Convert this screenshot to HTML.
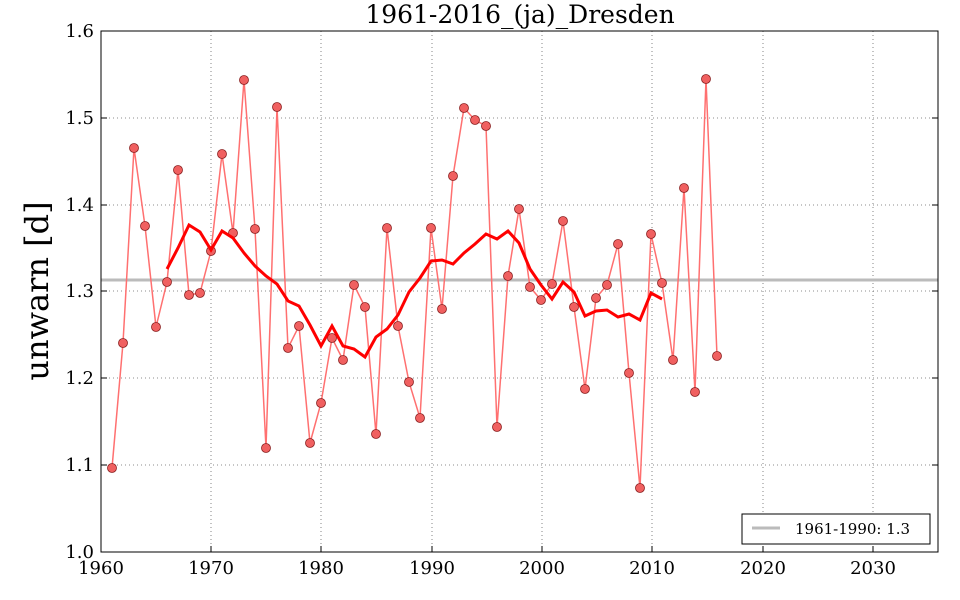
<!DOCTYPE html>
<html><head><meta charset="utf-8"><style>body{margin:0;background:#fff}svg{display:block}</style></head><body>
<svg width="960" height="600" xmlns="http://www.w3.org/2000/svg" font-family="'DejaVu Serif','Liberation Serif',serif">
<rect width="960" height="600" fill="#fff"/>
<g stroke="#000" stroke-width="0.8" stroke-dasharray="1,3" opacity="0.6">
<line x1="211" y1="31" x2="211" y2="552"/><line x1="321" y1="31" x2="321" y2="552"/><line x1="432" y1="31" x2="432" y2="552"/><line x1="542" y1="31" x2="542" y2="552"/><line x1="652" y1="31" x2="652" y2="552"/><line x1="763" y1="31" x2="763" y2="552"/><line x1="873" y1="31" x2="873" y2="552"/>
<line x1="101" y1="118" x2="938" y2="118"/><line x1="101" y1="205" x2="938" y2="205"/><line x1="101" y1="291" x2="938" y2="291"/><line x1="101" y1="378" x2="938" y2="378"/><line x1="101" y1="465" x2="938" y2="465"/>
</g>
<line x1="101" y1="280" x2="938" y2="280" stroke="#bbb" stroke-width="3"/>
<polyline fill="none" stroke="#ff7070" stroke-width="1.5" points="112,468 123,343 134,148 145,226 156,327 167,282 178,170 189,295 200,293 211,251 222,154 233,233 244,80 255,229 266,448 277,107 288,348 299,326 310,443 321,403 332,338 343,360 354,285 365,307 376,434 387,228 398,326 409,382 420,418 431,228 442,309 453,176 464,108 475,120 486,126 497,427 508,276 519,209 530,287 541,300 552,284 563,221 574,307 585,389 596,298 607,285 618,244 629,373 640,488 651,234 662,283 673,360 684,188 695,392 706,79 717,356"/>
<g fill="#f06060" stroke="#8a2020" stroke-width="0.8">
<circle cx="112" cy="468" r="4.5"/><circle cx="123" cy="343" r="4.5"/><circle cx="134" cy="148" r="4.5"/><circle cx="145" cy="226" r="4.5"/><circle cx="156" cy="327" r="4.5"/><circle cx="167" cy="282" r="4.5"/><circle cx="178" cy="170" r="4.5"/><circle cx="189" cy="295" r="4.5"/><circle cx="200" cy="293" r="4.5"/><circle cx="211" cy="251" r="4.5"/><circle cx="222" cy="154" r="4.5"/><circle cx="233" cy="233" r="4.5"/><circle cx="244" cy="80" r="4.5"/><circle cx="255" cy="229" r="4.5"/><circle cx="266" cy="448" r="4.5"/><circle cx="277" cy="107" r="4.5"/><circle cx="288" cy="348" r="4.5"/><circle cx="299" cy="326" r="4.5"/><circle cx="310" cy="443" r="4.5"/><circle cx="321" cy="403" r="4.5"/><circle cx="332" cy="338" r="4.5"/><circle cx="343" cy="360" r="4.5"/><circle cx="354" cy="285" r="4.5"/><circle cx="365" cy="307" r="4.5"/><circle cx="376" cy="434" r="4.5"/><circle cx="387" cy="228" r="4.5"/><circle cx="398" cy="326" r="4.5"/><circle cx="409" cy="382" r="4.5"/><circle cx="420" cy="418" r="4.5"/><circle cx="431" cy="228" r="4.5"/><circle cx="442" cy="309" r="4.5"/><circle cx="453" cy="176" r="4.5"/><circle cx="464" cy="108" r="4.5"/><circle cx="475" cy="120" r="4.5"/><circle cx="486" cy="126" r="4.5"/><circle cx="497" cy="427" r="4.5"/><circle cx="508" cy="276" r="4.5"/><circle cx="519" cy="209" r="4.5"/><circle cx="530" cy="287" r="4.5"/><circle cx="541" cy="300" r="4.5"/><circle cx="552" cy="284" r="4.5"/><circle cx="563" cy="221" r="4.5"/><circle cx="574" cy="307" r="4.5"/><circle cx="585" cy="389" r="4.5"/><circle cx="596" cy="298" r="4.5"/><circle cx="607" cy="285" r="4.5"/><circle cx="618" cy="244" r="4.5"/><circle cx="629" cy="373" r="4.5"/><circle cx="640" cy="488" r="4.5"/><circle cx="651" cy="234" r="4.5"/><circle cx="662" cy="283" r="4.5"/><circle cx="673" cy="360" r="4.5"/><circle cx="684" cy="188" r="4.5"/><circle cx="695" cy="392" r="4.5"/><circle cx="706" cy="79" r="4.5"/><circle cx="717" cy="356" r="4.5"/>
</g>
<polyline fill="none" stroke="#ff0000" stroke-width="3" points="167,269 178,248 189,225 200,232 211,250 222,231 233,238 244,253 255,266 266,276 277,284 288,301 299,306 310,325 321,346 332,326 343,346 354,349 365,357 376,337 387,329 398,315 409,292 420,278 431,261 442,260 453,264 464,253 475,244 486,234 497,239 508,231 519,243 530,269 541,285 552,299 563,282 574,292 585,316 596,311 607,310 618,317 629,314 640,320 651,293 662,299"/>
<rect x="101" y="31" width="837" height="521" fill="none" stroke="#000" stroke-width="1"/>
<g stroke="#000" stroke-width="1">
<line x1="211" y1="552" x2="211" y2="546"/><line x1="321" y1="552" x2="321" y2="546"/><line x1="432" y1="552" x2="432" y2="546"/><line x1="542" y1="552" x2="542" y2="546"/><line x1="652" y1="552" x2="652" y2="546"/><line x1="763" y1="552" x2="763" y2="546"/><line x1="873" y1="552" x2="873" y2="546"/>
<line x1="101" y1="118" x2="107" y2="118"/><line x1="101" y1="205" x2="107" y2="205"/><line x1="101" y1="291" x2="107" y2="291"/><line x1="101" y1="378" x2="107" y2="378"/><line x1="101" y1="465" x2="107" y2="465"/>
<line x1="932" y1="118" x2="938" y2="118"/><line x1="932" y1="205" x2="938" y2="205"/><line x1="932" y1="291" x2="938" y2="291"/><line x1="932" y1="378" x2="938" y2="378"/><line x1="932" y1="465" x2="938" y2="465"/>
</g>
<g font-size="18" text-anchor="middle">
<text x="101" y="574">1960</text><text x="211" y="574">1970</text><text x="321" y="574">1980</text><text x="432" y="574">1990</text><text x="542" y="574">2000</text><text x="652" y="574">2010</text><text x="763" y="574">2020</text><text x="873" y="574">2030</text>
</g>
<g font-size="18" text-anchor="end">
<text x="94" y="37">1.6</text><text x="94" y="124">1.5</text><text x="94" y="211">1.4</text><text x="94" y="297">1.3</text><text x="94" y="384">1.2</text><text x="94" y="471">1.1</text><text x="94" y="558">1.0</text>
</g>
<text x="520" y="23" font-size="25" text-anchor="middle">1961-2016_(ja)_Dresden</text>
<text transform="translate(48,291) rotate(-90)" font-size="32" text-anchor="middle">unwarn [d]</text>
<rect x="742" y="514" width="188" height="30" fill="#fff" stroke="#000" stroke-width="1"/>
<line x1="752" y1="528" x2="780" y2="528" stroke="#bbb" stroke-width="3"/>
<text x="795" y="534" font-size="15">1961-1990: 1.3</text>
</svg>
</body></html>
